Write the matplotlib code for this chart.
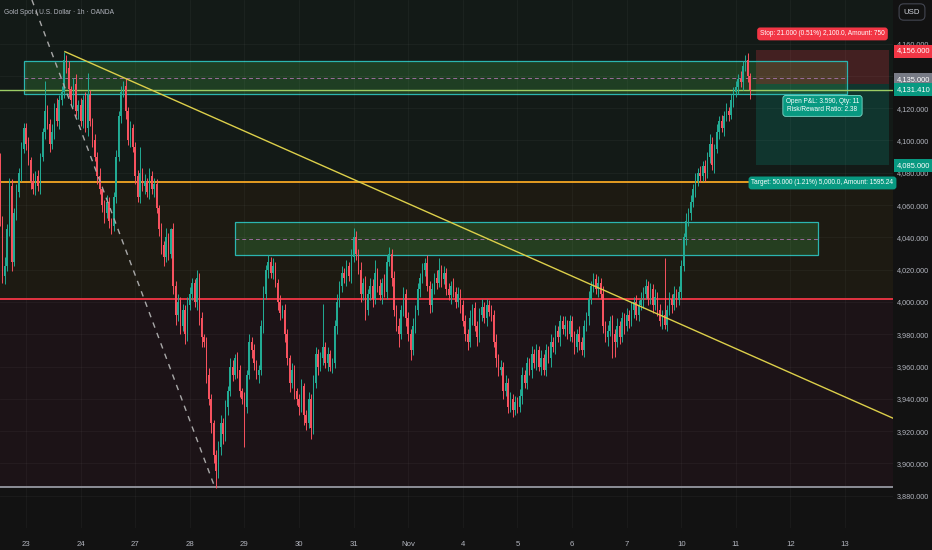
import numpy as np
import matplotlib
matplotlib.use('Agg')
from matplotlib import pyplot as plt
from matplotlib.patches import Rectangle

plt.rcParams['font.family'] = ['Liberation Sans', 'DejaVu Sans']

# --- time axis: 23 hourly bars per session, bar 0 = first bar of Oct 23
day_labels = ['23', '24', '27', '28', '29', '30', '31', 'Nov',
              '4', '5', '6', '7', '10', '11', '12', '13']
bars_per_day = 23
first_bar = -11
first_open = 4088

# --- hourly closes (per session)
closes_oct22 = [4050, 4016, 4022, 4045, 4072, 4025, 4055, 4068, 4080, 4095, 4108]
closes_oct23 = [4098, 4088, 4075, 4070, 4078, 4072, 4090, 4105, 4118, 4110, 4098, 4105,
                4120, 4112, 4125, 4130, 4150, 4145, 4132, 4125, 4135, 4118, 4122]
closes_oct24 = [4112, 4125, 4108, 4128, 4112, 4100, 4090, 4078, 4070, 4060, 4055, 4062,
                4050, 4047, 4065, 4090, 4115, 4130, 4134, 4118, 4100, 4108, 4096]
closes_oct27 = [4078, 4065, 4080, 4072, 4075, 4068, 4078, 4070, 4073, 4058, 4045, 4035,
                4028, 4040, 4030, 4045, 4010, 3992, 4000, 3985, 3995, 3980, 3998]
closes_oct28 = [4005, 4012, 4000, 4015, 3990, 3978, 3975, 3955, 3940, 3925, 3905, 3895,
                3910, 3925, 3918, 3935, 3945, 3960, 3955, 3965, 3958, 3945, 3940]
closes_oct29 = [3935, 3955, 3975, 3970, 3962, 3955, 3958, 3985, 4005, 4020, 4025, 4018,
                4022, 4012, 4000, 3993, 3995, 3980, 3965, 3950, 3958, 3945, 3940]
closes_oct30 = [3935, 3948, 3930, 3925, 3940, 3922, 3950, 3968, 3960, 3965, 3972, 3962,
                3968, 3960, 3962, 3985, 4000, 4010, 4018, 4015, 4022, 4016, 4028]
closes_oct31 = [4040, 4030, 4020, 4005, 4012, 3995, 4005, 4010, 4002, 4018, 4010, 4004,
                4012, 4006, 4025, 4030, 4015, 3995, 3985, 3980, 3995, 4005, 3990]
closes_nov03 = [3980, 3970, 3985, 3995, 4008, 4015, 4020, 4024, 4010, 3998, 4008, 4015,
                4012, 4020, 4014, 4018, 4008, 4004, 4010, 4006, 4000, 4005, 3998]
closes_nov04 = [3988, 3980, 3975, 3990, 3996, 3985, 3978, 3992, 3997, 3990, 3998, 3994,
                3992, 3975, 3965, 3958, 3960, 3945, 3950, 3935, 3940, 3933, 3938]
closes_nov05 = [3935, 3942, 3955, 3950, 3962, 3958, 3968, 3962, 3970, 3960, 3965, 3958,
                3970, 3965, 3975, 3972, 3982, 3978, 3988, 3983, 3986, 3980, 3988]
closes_nov06 = [3978, 3972, 3980, 3975, 3970, 3985, 3991, 4002, 4010, 4014, 4008, 4012,
                4005, 3985, 3978, 3982, 3988, 3980, 3975, 3985, 3978, 3990, 3985]
closes_nov07 = [3992, 3988, 3995, 4000, 3992, 3998, 4001, 4005, 4010, 4002, 4008, 3998,
                4003, 3995, 3988, 3992, 3986, 3995, 4002, 3998, 4005, 4001, 4006]
closes_nov10 = [4022, 4040, 4050, 4055, 4062, 4070, 4075, 4080, 4078, 4084, 4080, 4090,
                4098, 4085, 4095, 4105, 4112, 4108, 4115, 4118, 4116, 4125, 4130]
closes_nov11 = [4133, 4138, 4136, 4146, 4150, 4140, 4131.41]

# --- wick lengths above / below the candle body (dollars)
upper_wicks = [
    4, 3, 6, 3, 5, 4, 3, 5, 3, 4, 3,
    3, 4, 2, 5, 3, 4, 2, 3, 19, 4, 3, 5, 3, 6, 3, 4, 5, 3, 4, 2, 4, 6, 3,
    4, 3, 5, 14, 3, 2, 4, 3, 5, 2, 3, 4, 3, 2, 3, 4, 3, 4, 3, 5, 3, 4, 2,
    3, 4, 16, 3, 4, 2, 5, 3, 4, 3, 2, 4, 3, 6, 3, 1, 4, 3, 5, 3, 4, 3, 5,
    4, 3, 2, 5, 3, 4, 2, 3, 4, 3, 2, 3, 4, 5, 3, 4, 3, 5, 4, 3, 4, 3, 2,
    4, 3, 5, 3, 4, 2, 3, 4, 5, 3, 4, 3, 5, 3, 2, 4, 3, 4, 3, 2, 4, 3, 2,
    3, 4, 2, 3, 4, 3, 5, 4, 3, 4, 27, 3, 4, 2, 3, 4, 5, 3, 4, 3, 4, 3, 5,
    6, 4, 3, 5, 3, 4, 3, 5, 4, 8, 3, 4, 3, 5, 4, 4, 3, 4, 3, 5, 3, 4, 3,
    4, 3, 5, 3, 4, 3, 4, 3, 5, 3, 4, 3, 5, 7, 3, 4, 3, 4, 3, 5, 3, 4, 3,
    3, 4, 3, 5, 3, 4, 3, 4, 5, 3, 4, 3, 4, 3, 5, 3, 4, 3, 5, 3, 4, 3, 4,
    3, 4, 5, 3, 4, 3, 5, 3, 4, 3, 5, 3, 4, 3, 5, 3, 4, 3, 4, 3, 5, 3, 4,
    3, 4, 3, 5, 3, 4, 3, 5, 3, 4, 3, 4, 3, 5, 3, 4, 3, 4, 3, 5, 3, 4, 3,
    4, 3, 5, 3, 4, 3, 5, 4, 4, 3, 4, 3, 5, 3, 4, 3, 35, 3, 4, 3, 5, 3, 4,
    4, 3, 5, 3, 4, 3, 5, 3, 4, 3, 4, 3, 6, 4, 3, 5, 3, 4, 3, 5, 3, 4, 3,
    4, 3, 5, 3, 3, 4, 2,
]
lower_wicks = [
    3, 4, 5, 3, 4, 6, 3, 4, 3, 5, 3,
    4, 3, 5, 3, 4, 3, 5, 3, 4, 3, 5, 3, 4, 3, 5, 3, 4, 3, 5, 3, 4, 3, 5,
    3, 4, 3, 5, 3, 4, 3, 5, 3, 4, 6, 3, 4, 5, 3, 4, 3, 4, 3, 5, 3, 4, 3,
    5, 3, 4, 3, 5, 3, 4, 3, 5, 3, 4, 5, 6, 3, 4, 3, 5, 6, 4, 5, 3, 6, 4,
    3, 4, 3, 5, 4, 6, 3, 5, 4, 6, 5, 10, 4, 5, 6, 4, 5, 3, 4, 3, 5, 4, 3,
    25, 4, 3, 5, 4, 3, 5, 3, 4, 3, 5, 3, 4, 3, 5, 4, 3, 5, 4, 6, 3, 5, 4,
    5, 3, 6, 4, 3, 7, 4, 3, 5, 3, 4, 3, 5, 3, 4, 3, 5, 3, 4, 3, 5, 3, 4,
    3, 4, 3, 5, 4, 6, 3, 4, 5, 3, 4, 3, 5, 3, 4, 3, 5, 4, 3, 8, 3, 4, 5,
    4, 6, 3, 4, 3, 5, 3, 4, 3, 5, 4, 3, 4, 3, 5, 3, 4, 3, 5, 3, 4, 3, 5,
    3, 4, 5, 3, 4, 3, 5, 3, 4, 3, 5, 3, 4, 3, 5, 4, 3, 5, 3, 4, 3, 4, 3,
    4, 3, 5, 3, 4, 3, 5, 3, 4, 3, 5, 3, 4, 3, 5, 3, 4, 3, 5, 3, 4, 3, 4,
    3, 4, 3, 5, 3, 4, 3, 5, 3, 4, 3, 5, 3, 4, 3, 5, 3, 15, 9, 3, 4, 3, 5,
    3, 4, 3, 5, 3, 4, 3, 5, 3, 4, 3, 5, 3, 4, 3, 5, 3, 4, 3, 5, 3, 4, 3,
    4, 3, 5, 3, 4, 3, 5, 3, 4, 3, 5, 3, 4, 3, 5, 3, 4, 3, 5, 3, 4, 3, 4,
    3, 4, 3, 5, 3, 4, 6,
]

# --- drawings
resistance_zone = (-0.8, 345.8, 4129, 4149, 4139)     # x0, x1, low, high, mid
support_zone = (88.0, 333.6, 4029, 4049.5, 4039)
trend_points = ([16.4, 365.2], [4155, 3928])
fall_points = ([2.5, 79.6], [4187, 3885])
orange_level = 4074
red_level = 4002
grey_level = 3885.5
last_price = 4131.41

position_x = (307.5, 363.5)
entry_price = 4135
stop_price = 4156
target_price = 4085
stop_text = 'Stop: 21.000 (0.51%) 2,100.0, Amount: 750'
pnl_text = 'Open P&L: 3.590, Qty: 11\nRisk/Reward Ratio: 2.38'
target_text = 'Target: 50.000 (1.21%) 5,000.0, Amount: 1595.24'

price_ticks = list(range(3880, 4161, 20))
hidden_ticks = [4140]

title = 'Gold Spot / U.S. Dollar · 1h · OANDA'

UP = '#22ab94'
DOWN = '#f7525f'
TEXT = '#b2b5be'
BG = '#121212'

closes = np.array(closes_oct22 + closes_oct23 + closes_oct24 + closes_oct27 + closes_oct28
                  + closes_oct29 + closes_oct30 + closes_oct31 + closes_nov03 + closes_nov04
                  + closes_nov05 + closes_nov06 + closes_nov07 + closes_nov10 + closes_nov11,
                  dtype=float)
opens = np.r_[first_open, closes[:-1]]
x = np.arange(first_bar, first_bar + len(closes))
highs = np.maximum(opens, closes) + np.array(upper_wicks)
lows = np.minimum(opens, closes) - np.array(lower_wicks)
colors = np.where(closes >= opens, UP, DOWN)

fig = plt.figure(figsize=(9.32, 5.5), dpi=100)
fig.patch.set_facecolor(BG)
ax = fig.add_axes([0, 22 / 550, 893 / 932, 528 / 550])
ax.set_facecolor(BG)
ax.set_xlim(-10.95, 365.2)
ax.set_ylim(3860, 4187)
for s in ax.spines.values():
    s.set_visible(False)

# background bands
ax.axhspan(orange_level, 4200, color='#131a17', zorder=0, lw=0)
ax.axhspan(red_level, orange_level, color='#1d1a12', zorder=0, lw=0)
ax.axhspan(grey_level, red_level, color='#1c1317', zorder=0, lw=0)

# grid
ax.set_yticks(price_ticks)
ax.set_yticklabels(['' if t in hidden_ticks else f'{t:,.3f}' for t in price_ticks])
ax.set_xticks([k * bars_per_day for k in range(len(day_labels))])
ax.set_xticklabels(day_labels)
ax.grid(True, color='#ffffff', alpha=0.045, lw=0.6)
ax.yaxis.tick_right()
ax.tick_params(axis='y', length=0, pad=3, labelsize=5.2, colors=TEXT)
ax.tick_params(axis='x', length=0, pad=9, labelsize=5.6, colors=TEXT)

# zones
for x0, x1, lo, hi, mid in (resistance_zone, support_zone):
    ax.add_patch(Rectangle((x0, lo), x1 - x0, hi - lo, facecolor='#2f6b33', alpha=0.45,
                           edgecolor='none', zorder=1.2))
    ax.add_patch(Rectangle((x0, lo), x1 - x0, hi - lo, facecolor='none',
                           edgecolor='#2bb5b0', lw=0.9, zorder=1.3))
    ax.plot([x0, x1], [mid, mid], color='#9a6d9a', lw=0.7, ls=(0, (4, 3)), zorder=1.4)

# position tool
px0, px1 = position_x
ax.add_patch(Rectangle((px0, entry_price), px1 - px0, stop_price - entry_price,
                       facecolor='#f23645', alpha=0.22, lw=0, zorder=1.2))
ax.add_patch(Rectangle((px0, target_price), px1 - px0, entry_price - target_price,
                       facecolor='#089981', alpha=0.22, lw=0, zorder=1.2))

# levels
ax.axhline(orange_level, color='#f5a623', lw=1.3, zorder=2)
ax.axhline(red_level, color='#f23645', lw=1.3, zorder=2)
ax.axhline(grey_level, color='#9598a1', lw=1.3, zorder=2)
ax.axhline(last_price, color='#9ccc65', lw=1.0, zorder=2)

# candles
ax.vlines(x, lows, highs, colors=colors, lw=0.7, zorder=3)
ax.bar(x, np.maximum(np.abs(closes - opens), 0.6), 0.62,
       bottom=np.minimum(opens, closes), color=colors, lw=0, zorder=3)

# trend lines
ax.plot(*trend_points, color='#dccf4a', lw=1.0, zorder=4)
ax.plot(*fall_points, color='#a8a8a8', lw=1.0, ls=(0, (4, 4)), zorder=4)

# position labels
pcx = (px0 + px1) / 2
lab = dict(ha='center', va='center', color='white', fontsize=4.7, zorder=6)
ax.text(pcx, 4166, stop_text, bbox=dict(boxstyle='round,pad=0.45', fc='#f23645', ec='none'), **lab)
ax.text(pcx, 4121.4, pnl_text, linespacing=1.2,
        bbox=dict(boxstyle='round,pad=0.45', fc='#089981', ec='#7fdccb', lw=0.6), **lab)
ax.text(pcx, 4073.7, target_text, bbox=dict(boxstyle='round,pad=0.45', fc='#089981', ec='none'), **lab)

# price scale labels
tr = ax.get_yaxis_transform()
for y, txt, fc in ((4155.4, '4,156.000', '#f23645'), (4138.0, '4,135.000', '#787b86'),
                   (4131.3, '4,131.410', '#089981'), (4084.2, '4,085.000', '#089981')):
    ax.text(1.004, y, txt, transform=tr, ha='left', va='center', fontsize=5.4, color='white',
            clip_on=False, zorder=7,
            bbox=dict(boxstyle='square,pad=0.4', fc=fc, ec='none'))

fig.text(4 / 932, 1 - 12 / 550, title, fontsize=4.8, color=TEXT, va='center', ha='left')
fig.text(912 / 932, 1 - 12 / 550, 'USD', fontsize=5.6, color='#d1d4dc', va='center', ha='center',
         bbox=dict(boxstyle='round,pad=0.6', fc=BG, ec='#434651', lw=0.8))

fig.savefig('out.png', dpi=100, facecolor=BG)
